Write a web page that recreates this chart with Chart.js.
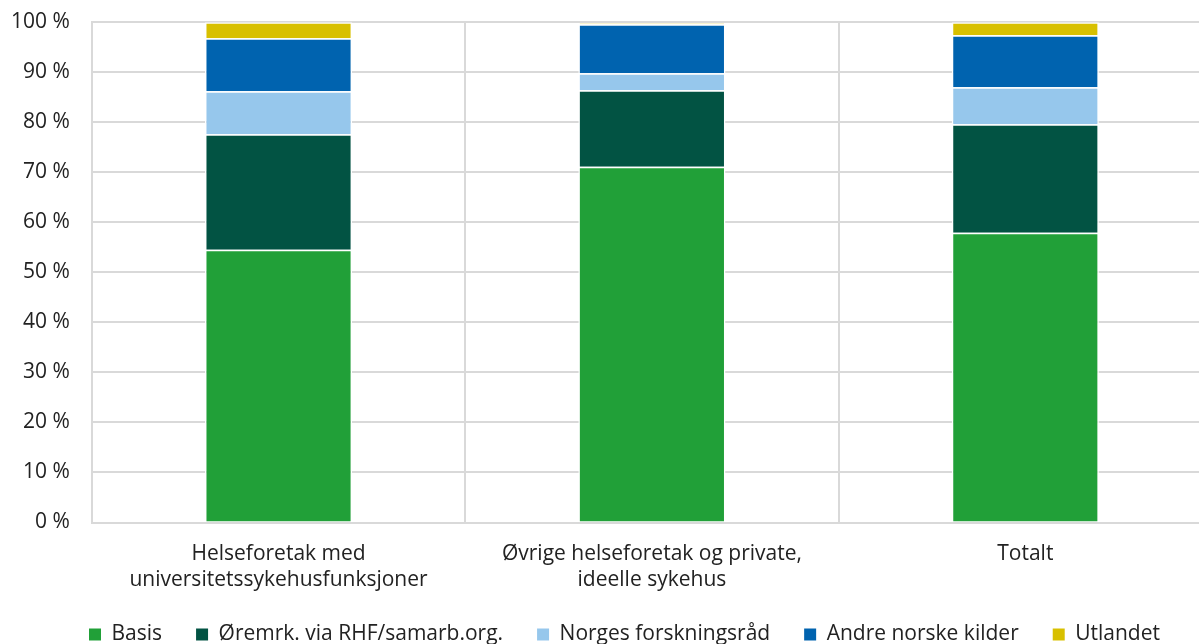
<!DOCTYPE html>
<html lang="no">
<head>
<meta charset="UTF-8">
<title>Finansiering</title>
<script src="https://cdn.jsdelivr.net/npm/chart.js"></script>
<style>
    body { margin: 0; background: #fff; }
    .wrap { width: 1199px; height: 644px; overflow: hidden; }
    #chart { display: block; margin-top: -13px; }
</style>
</head>
<body>
<div class="wrap">
    <canvas id="chart" width="1212" height="657"></canvas>
</div>
<script>
    // Kategorier og verdier (andel i prosent)
    const categories = [
        ['Helseforetak med', 'universitetssykehusfunksjoner'],
        ['Øvrige helseforetak og private,', 'ideelle sykehus'],
        'Totalt'
    ];
    const basis = [54.5, 71.1, 57.9];
    const oremerket = [23.1, 15.3, 21.7];
    const forskningsraad = [8.6, 3.4, 7.4];
    const andreNorske = [10.6, 9.8, 10.4];
    const utlandet = [3.2, 0.2, 2.6];
    const yTicks = [0, 10, 20, 30, 40, 50, 60, 70, 80, 90, 100];

    const font = { family: "'Open Sans', 'Noto Sans', sans-serif", size: 21, lineHeight: 1.25 };
    const gridColor = '#d9d9d9';

    function serie(label, data, color) {
        return {
            label: label,
            data: data,
            backgroundColor: color,
            borderColor: '#ffffff',
            borderWidth: 1.5,
            barPercentage: 0.394,
            categoryPercentage: 1
        };
    }

    // flytter legenden litt (høyre / opp)
    const moveLegend = {
        id: 'moveLegend',
        afterLayout(chart) {
            const lg = chart.legend;
            lg.left += 24; lg.right += 24;
            lg.top -= 21; lg.bottom -= 21;
        }
    };

    new Chart(document.getElementById('chart'), {
        type: 'bar',
        data: {
            labels: categories,
            datasets: [
                serie('Basis', basis, '#21a038'),
                serie('Øremrk. via RHF/samarb.org.', oremerket, '#025343'),
                serie('Norges forskningsråd', forskningsraad, '#96c7ec'),
                serie('Andre norske kilder', andreNorske, '#0063af'),
                serie('Utlandet', utlandet, '#d8c000')
            ]
        },
        plugins: [moveLegend],
        options: {
            responsive: false,
            animation: false,
            layout: { padding: { top: 0, left: -11, right: 0, bottom: -32 } },
            plugins: {
                tooltip: { enabled: false },
                legend: {
                    position: 'bottom',
                    labels: {
                        font: font,
                        color: '#222',
                        boxWidth: 12,
                        boxHeight: 12,
                        padding: 34,
                        generateLabels: function (chart) {
                            return chart.data.datasets.map(function (ds, i) {
                                return {
                                    text: ds.label,
                                    fillStyle: ds.backgroundColor,
                                    strokeStyle: ds.backgroundColor,
                                    lineWidth: 0,
                                    fontColor: '#222',
                                    datasetIndex: i
                                };
                            });
                        }
                    }
                }
            },
            scales: {
                x: {
                    stacked: true,
                    grid: { color: gridColor, lineWidth: 2, drawTicks: false },
                    border: { color: gridColor, width: 2 },
                    ticks: { font: font, color: '#222', padding: 18, maxRotation: 0 }
                },
                y: {
                    stacked: true,
                    min: 0,
                    max: 100,
                    afterBuildTicks: function (axis) {
                        axis.ticks = yTicks.map(function (v) { return { value: v }; });
                    },
                    grid: { color: gridColor, lineWidth: 2, drawTicks: false },
                    border: { color: gridColor, width: 2 },
                    ticks: {
                        font: font,
                        color: '#222',
                        padding: 22,
                        callback: function (v) { return v + ' %'; }
                    }
                }
            }
        }
    });
</script>
</body>
</html>
